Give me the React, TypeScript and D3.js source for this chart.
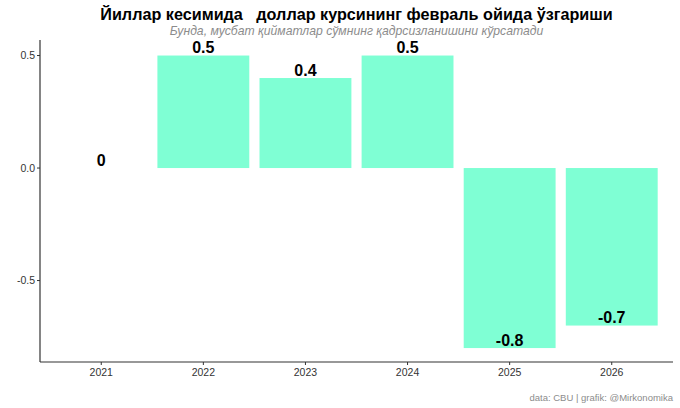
import React from "react";
import * as d3 from "d3";

const years = ["2021", "2022", "2023", "2024", "2025", "2026"];
const values = [0, 0.5, 0.4, 0.5, -0.8, -0.7];
const labels = ["0", "0.5", "0.4", "0.5", "-0.8", "-0.7"];
const yTicks = [-0.5, 0, 0.5];
const yTickLabels = ["-0.5", "0.0", "0.5"];

const W = 680, H = 408;
const left = 40, right = 673, top = 40, bottom = 362;

export default function App() {
  const x = d3.scaleBand<string>().domain(years).range([left, right]).paddingInner(0.1).paddingOuter(0.15);
  const y = d3.scaleLinear().domain([-0.862, 0.569]).range([bottom, top]);
  const font = "'Liberation Sans', Arial, sans-serif";
  const cx = (left + right) / 2;
  return (
    <svg width={W} height={H} style={{ position: "absolute", left: 0, top: 0, fontFamily: font }}>
      <rect width={W} height={H} fill="#fff" />
      <text x={cx} y={20} textAnchor="middle" fontSize={16.2} fontWeight="bold" fill="#000" style={{ whiteSpace: "pre" }}>
        {"Йиллар кесимида   доллар курсининг февраль ойида ўзгариши"}
      </text>
      <text x={cx} y={35} textAnchor="middle" fontSize={12.2} fontStyle="italic" fill="#8c8c8c">
        Бунда, мусбат қийматлар сўмнинг қадрсизланишини кўрсатади
      </text>
      {years.map((yr, i) => {
        const v = values[i];
        const y0 = y(0), y1 = y(v);
        return (
          <rect key={yr} x={x(yr)} width={x.bandwidth()} y={Math.min(y0, y1)} height={Math.abs(y1 - y0)} fill="#7FFFD4" />
        );
      })}
      {years.map((yr, i) => (
        <text key={"l" + yr} x={(x(yr) as number) + x.bandwidth() / 2} y={y(values[i]) - 2.5} textAnchor="middle" fontSize={16} fontWeight="bold" fill="#000">
          {labels[i]}
        </text>
      ))}
      <line x1={left} x2={left} y1={top} y2={bottom} stroke="#333" strokeWidth={1.2} />
      <line x1={left} x2={right} y1={bottom} y2={bottom} stroke="#333" strokeWidth={1.2} />
      {yTicks.map((t, i) => (
        <g key={"yt" + t}>
          <line x1={left - 3} x2={left} y1={y(t)} y2={y(t)} stroke="#333" />
          <text x={left - 5} y={y(t) + 3.8} textAnchor="end" fontSize={10.5} fill="#333">{yTickLabels[i]}</text>
        </g>
      ))}
      {years.map((yr) => {
        const c = (x(yr) as number) + x.bandwidth() / 2;
        return (
          <g key={"xt" + yr}>
            <line x1={c} x2={c} y1={bottom} y2={bottom + 3} stroke="#333" />
            <text x={c} y={bottom + 14} textAnchor="middle" fontSize={10.5} fill="#333">{yr}</text>
          </g>
        );
      })}
      <text x={right} y={401} textAnchor="end" fontSize={9.5} fill="#8c8c8c">data: CBU | grafik: @Mirkonomika</text>
    </svg>
  );
}
